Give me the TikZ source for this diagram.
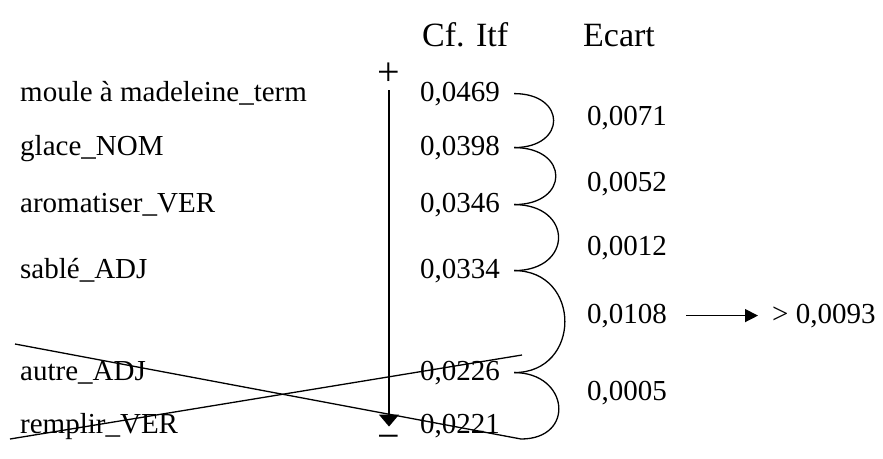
\documentclass[tikz,border=0pt]{standalone}
\usepackage{fontspec}
\setmainfont{Liberation Serif}
\usetikzlibrary{positioning,arrows.meta}

\begin{document}
\begin{tikzpicture}[x=1pt,y=-1pt,>={Triangle[width=20pt,length=12pt]},
  txt/.style={font=\fontsize{29}{32}\selectfont,inner sep=0pt,anchor=base west},
  hdr/.style={font=\fontsize{34}{38}\selectfont,inner sep=0pt,anchor=base west},
  sign/.style={font=\fontsize{40}{44}\selectfont,inner sep=0pt,anchor=base},
  brace/.style={line width=1.3pt,out=0,in=0}]
\useasboundingbox (0,0) rectangle (883,458);
\node[hdr] (hitf) at (422,46) {Cf. Itf};
\node[hdr] (hecart) at (583,46) {Ecart};
% termes et coefficients
\foreach \i/\y/\term/\val in {1/101/{moule à madeleine\_term}/{0,0469},2/155/{glace\_NOM}/{0,0398},
  3/212/{aromatiser\_VER}/{0,0346},4/278/{sablé\_ADJ}/{0,0334},5/380/{autre\_ADJ}/{0,0226},6/433/{remplir\_VER}/{0,0221}}{
  \node[txt] (term\i) at (20,\y) {\term};
  \node[txt] (val\i) at (420,\y) {\val};
}
% ecarts
\foreach \i/\y/\val in {1/125/{0,0071},2/191/{0,0052},3/255/{0,0012},4/323/{0,0108},5/400/{0,0005}}
  \node[txt] (ec\i) at (587,\y) {\val};
\node[txt] (seuil) at (772,323) {> 0,0093};
\draw[line width=1.3pt,->,>={Triangle[width=13pt,length=13pt]},shorten <=19pt,shorten >=14pt] (ec4.east) -- (seuil.west);
% axe + / -
\node[sign] (plus) at (389,85) {+};
\node[sign] (minus) at (389,449) {−};
\draw[line width=1.4pt,->,shorten <=5pt,shorten >=8pt] (plus) -- (minus);
% termes rayes
\coordinate (crossA) at (15,344);
\coordinate (crossB) at (521,439);
\coordinate (crossC) at (10,439);
\coordinate (crossD) at (522,355);
\draw[line width=1.3pt] (crossA) -- (crossB);
\draw[line width=1.3pt] (crossC) -- (crossD);
% accolades
\foreach \a/\b/\l in {val1/val2/2.5,val2/val3/2.5,val3/val4/2.3,val4/val5/1.7}
  \draw[brace,looseness=\l] ([xshift=14pt]\a.east) to ([xshift=14pt]\b.east);
\draw[brace,looseness=2.1] ([xshift=14pt]val5.east) to (crossB);
\end{tikzpicture}
\end{document}
